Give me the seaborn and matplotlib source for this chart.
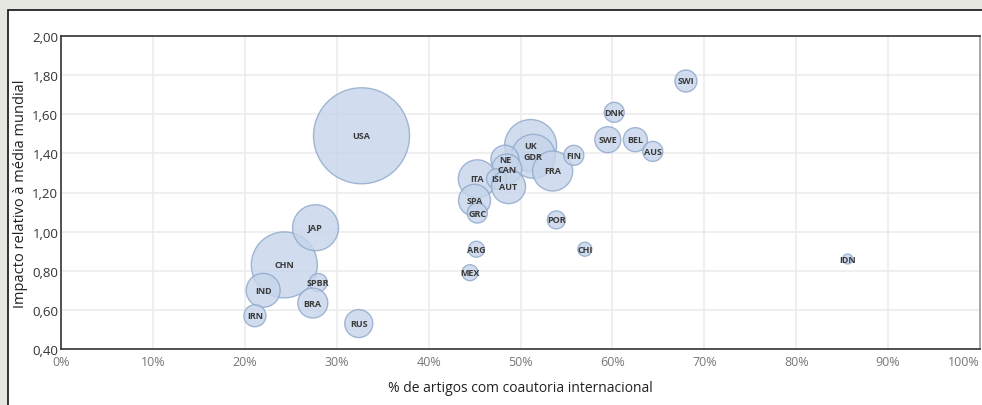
"""Grafico de bolhas: impacto relativo x coautoria internacional."""

import matplotlib.pyplot as plt
import pandas as pd
import seaborn as sns
from matplotlib.patches import Rectangle
from matplotlib.ticker import FuncFormatter

# dados
paises = [
    "USA", "CHN", "JAP", "IND", "IRN", "SPBR", "BRA", "RUS",
    "UK", "GDR", "FRA", "NE", "CAN", "ITA", "ISI", "AUT", "SPA", "GRC",
    "POR", "ARG", "CHI", "MEX", "FIN", "DNK", "SWE", "BEL", "AUS", "SWI", "IDN",
]
coautoria = [
    32.7, 24.3, 27.7, 22.0, 21.1, 28.0, 27.4, 32.4,
    51.1, 51.4, 53.5, 48.3, 48.5, 45.3, 47.4, 48.7, 45.0, 45.3,
    53.9, 45.2, 57.0, 44.5, 55.8, 60.2, 59.5, 62.5, 64.4, 68.0, 85.6,
]
impacto = [
    1.49, 0.83, 1.02, 0.70, 0.57, 0.74, 0.635, 0.53,
    1.44, 1.385, 1.31, 1.37, 1.32, 1.27, 1.27, 1.23, 1.16, 1.095,
    1.06, 0.91, 0.91, 0.79, 1.39, 1.61, 1.47, 1.47, 1.41, 1.77, 0.86,
]
# tamanho relativo da bolha (proporcional a area)
tamanho = [
    2304, 1089, 529, 289, 121, 81, 225, 196,
    676, 484, 400, 196, 225, 361, 100, 289, 256, 100,
    81, 64, 49, 64, 100, 100, 169, 144, 100, 121, 25,
]

df = pd.DataFrame(
    {"pais": paises, "x": coautoria, "y": impacto, "tam": tamanho}
)

plt.rcParams["font.family"] = ["Open Sans", "DejaVu Sans"]

fig = plt.figure(figsize=(9.82, 4.06), dpi=100)
fig.patch.set_facecolor("#e7e7e1")
fig.patches.append(
    Rectangle(
        (8 / 982, -0.05), 1.0, 1 - 11 / 406 + 0.05,
        transform=fig.transFigure, facecolor="white",
        edgecolor="#111111", linewidth=1.2, zorder=-1,
    )
)

ax = fig.add_axes([61 / 982, 56 / 406, 919 / 982, 313 / 406])
ax.set_zorder(2)
ax.set_facecolor("white")
ax.grid(True, color="#ececec", linewidth=1.2, zorder=0)
ax.set_axisbelow(True)

maximo = max(tamanho)
sns.scatterplot(
    data=df, x="x", y="y", size="tam",
    sizes=(0, 2.0736 * maximo), size_norm=(0, maximo),
    color="#c6d5eb", edgecolor="#8ea7ca", linewidth=1.0,
    alpha=0.8, legend=False, ax=ax, zorder=2,
)

for _, row in df.iterrows():
    ax.text(row["x"], row["y"], row["pais"], ha="center", va="center",
            fontsize=6.5, fontweight="bold", color="#3a3a3a", zorder=3)

ax.set_xlim(0, 100)
ax.set_ylim(0.4, 2.0)
ax.set_xticks(range(0, 101, 10))
ax.set_yticks([0.4 + 0.2 * i for i in range(9)])
ax.xaxis.set_major_formatter(FuncFormatter(lambda v, _: f"{v:.0f}%"))
ax.yaxis.set_major_formatter(
    FuncFormatter(lambda v, _: f"{v:.2f}".replace(".", ","))
)
ax.tick_params(axis="x", length=0, pad=4, labelsize=9, labelcolor="#777777")
ax.tick_params(axis="y", length=0, pad=2, labelsize=9.5, labelcolor="#333333")
ax.get_xticklabels()[-1].set_horizontalalignment("right")

ax.set_xlabel("% de artigos com coautoria internacional",
              fontsize=10, color="#222222", labelpad=9)
ax.set_ylabel("Impacto relativo à média mundial",
              fontsize=10.5, color="#222222", labelpad=3)

for lado in ["left", "bottom", "top"]:
    ax.spines[lado].set_color("#333333")
    ax.spines[lado].set_linewidth(1.2)
ax.spines["right"].set_color("#999999")
ax.spines["right"].set_linewidth(1.2)

fig.savefig("out.png", dpi=100, facecolor=fig.get_facecolor())
plt.close(fig)
